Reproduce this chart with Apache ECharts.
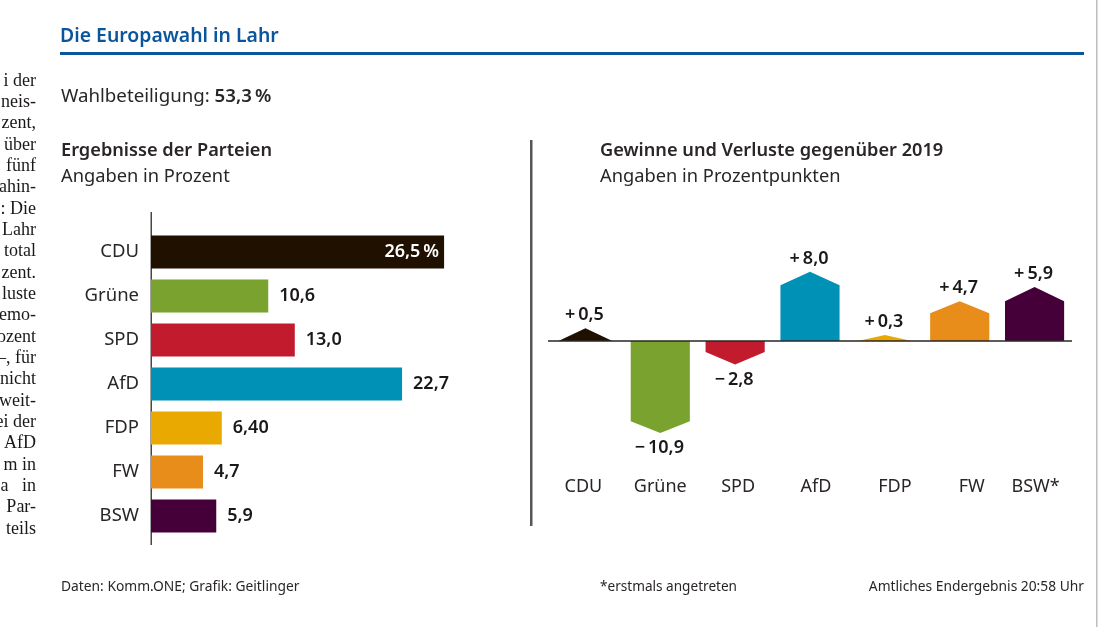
<!DOCTYPE html>
<html>
<head>
<meta charset="utf-8">
<style>
    html, body { margin: 0; padding: 0; background: #ffffff; }
    #main { width: 1101px; height: 627px; }
</style>
<script src="https://cdn.jsdelivr.net/npm/echarts@6/dist/echarts.min.js"></script>
</head>
<body>
<div id="main"></div>
<script>
    // Ergebnisse
    var parties = ['CDU', 'Grüne', 'SPD', 'AfD', 'FDP', 'FW', 'BSW'];
    var results = [26.5, 10.6, 13.0, 22.7, 6.4, 4.7, 5.9];
    var resultLabels = ['26,5\u2009%', '10,6', '13,0', '22,7', '6,40', '4,7', '5,9'];

    // Gewinne und Verluste
    var changeParties = ['CDU', 'Grüne', 'SPD', 'AfD', 'FDP', 'FW', 'BSW*'];
    var changeLabels = ['+\u20090,5', '−\u200910,9', '−\u20092,8', '+\u20098,0', '+\u20090,3', '+\u20094,7', '+\u20095,9'];
    // Hoehe der Fuenfecke (Spitze / Schulter)
    var changeTips = [1.5, -10.9, -2.8, 8.2, 0.7, 4.7, 6.4];
    var changeShoulders = [0, -9.5, -1.3, 6.6, 0, 3.3, 4.7];

    var partyColors = ['#201000', '#79a22f', '#c21b2e', '#0092b6', '#eaa900', '#e88c1a', '#45003a'];

    // abgeschnittene Textspalte links
    var columnLines = ['i der', 'neis-', 'zent,', 'über', 'fünf', 'ahin-', ': Die', 'Lahr', 'total', 'zent.', 'luste',
        'emo-', 'ozent', '–, für', 'nicht', 'weit-', 'ei der', 'AfD', 'm in', 'a   in', 'Par-', 'teils'];

    var font = '"Noto Sans", sans-serif';
    var ink = '#2a2626';

    // kleine Verschiebung der Achsenbeschriftung rechts
    var labelShift = [-2, 0, 3, 6, 10, 12, 1];

    function text(x, y, str, size, weight, color, align) {
        return {
            type: 'text', silent: true,
            x: x, y: y,
            style: {
                text: str, fill: color || ink, align: align || 'left', verticalAlign: 'middle',
                font: (weight || 'normal') + ' ' + size + 'px ' + font
            }
        };
    }

    var graphics = [
        text(60, 36, 'Die Europawahl in Lahr', 19.4, '600', '#0b559c'),
        { type: 'rect', silent: true, shape: { x: 60, y: 52, width: 1024, height: 3 }, style: { fill: '#0b559c' } },
        {
            type: 'text', silent: true, x: 61, y: 97,
            style: {
                text: '{a|Wahlbeteiligung: }{b|53,3\u2009%}', verticalAlign: 'middle',
                rich: {
                    a: { font: 'normal 18.7px ' + font, fill: ink },
                    b: { font: '600 18.7px ' + font, fill: ink }
                }
            }
        },
        text(61, 151, 'Ergebnisse der Parteien', 18.2, '600'),
        text(61, 177, 'Angaben in Prozent', 18.3),
        text(600, 151, 'Gewinne und Verluste gegenüber 2019', 18.2, '600'),
        text(600, 177, 'Angaben in Prozentpunkten', 18.3),
        { type: 'rect', silent: true, shape: { x: 530, y: 140, width: 2.5, height: 386 }, style: { fill: '#5a5555' } },
        { type: 'rect', silent: true, shape: { x: 150.5, y: 212, width: 1.5, height: 333 }, style: { fill: '#4a4646' } },
        { type: 'rect', silent: true, shape: { x: 1096, y: 0, width: 1.5, height: 627 }, style: { fill: '#bdbdbd' } },
        text(61, 587, 'Daten: Komm.ONE; Grafik: Geitlinger', 13.8),
        text(600, 587, '*erstmals angetreten', 13.6),
        text(1084, 587, 'Amtliches Endergebnis 20:58 Uhr', 13.8, 'normal', ink, 'right')
    ];
    columnLines.forEach(function (line, i) {
        graphics.push({
            type: 'text', silent: true, x: 36, y: 81 + i * 21.33,
            style: { text: line, fill: '#1c1818', align: 'right', verticalAlign: 'middle', font: '18px "Liberation Serif", serif' }
        });
    });

    function drawPentagon(params, api) {
        var i = api.value(0);
        var zero = api.coord([i, 0]);
        var tip = api.coord([i, api.value(1)]);
        var shoulder = api.coord([i, api.value(2)]);
        var flat = api.value(2) === 0;
        var half = flat ? 27 : api.size([1, 0])[0] * 0.395;
        var up = api.value(1) > 0;
        return {
            type: 'group',
            children: [{
                type: 'polygon',
                shape: { points: [[zero[0] - half, zero[1]], [zero[0] - half, shoulder[1]], [tip[0], tip[1]], [zero[0] + half, shoulder[1]], [zero[0] + half, zero[1]]] },
                style: { fill: partyColors[i] }
            }, {
                type: 'text',
                x: tip[0] - 1, y: tip[1] + (up ? -13 : 15),
                style: {
                    text: changeLabels[i], fill: '#1c1818', align: 'center', verticalAlign: 'middle',
                    font: '600 18px ' + font
                }
            }]
        };
    }

    var myChart = echarts.init(document.getElementById('main'));

    var option = {
        backgroundColor: '#ffffff',
        animation: false,
        graphic: graphics,
        grid: [
            { left: 151, top: 230, width: 320, height: 308 },
            { left: 548, top: 256.6, width: 524, height: 219.4 }
        ],
        xAxis: [
            { gridIndex: 0, type: 'value', min: 0, max: 320 / 11.06, show: false },
            {
                gridIndex: 1, type: 'category', position: 'bottom',
                // Beschriftung leicht gegen die Balken versetzt
                data: changeParties.map(function (name, i) {
                    var s = labelShift[i];
                    return { value: name, textStyle: { padding: s > 0 ? [0, 0, 0, s * 2] : [0, -s * 2, 0, 0] } };
                }),
                axisLine: { show: false }, axisTick: { show: false },
                axisLabel: { margin: 2, verticalAlign: 'top', interval: 0, color: ink, fontFamily: font, fontSize: 18 }
            }
        ],
        yAxis: [
            {
                gridIndex: 0, type: 'category', inverse: true, data: parties,
                axisLine: { show: false }, axisTick: { show: false },
                axisLabel: { margin: 12, color: ink, fontFamily: font, fontSize: 18.5, padding: [3, 0, 0, 0] }
            },
            { gridIndex: 1, type: 'value', min: -16, max: 10, interval: 2, show: false }
        ],
        series: [
            {
                type: 'bar', xAxisIndex: 0, yAxisIndex: 0, barWidth: 33,
                data: results.map(function (v, i) {
                    var inside = i === 0;
                    return {
                        value: v,
                        itemStyle: { color: partyColors[i] },
                        label: {
                            show: true,
                            position: inside ? 'insideRight' : 'right',
                            distance: inside ? 5 : 11,
                            padding: [4, 0, 0, 0],
                            formatter: resultLabels[i],
                            color: inside ? '#ffffff' : '#1c1818',
                            fontFamily: font, fontWeight: 600, fontSize: 18
                        }
                    };
                })
            },
            {
                type: 'custom', xAxisIndex: 1, yAxisIndex: 1,
                renderItem: drawPentagon,
                encode: { x: 0, y: 1 },
                data: changeTips.map(function (v, i) { return [i, v, changeShoulders[i]]; }),
                markLine: {
                    silent: true, symbol: 'none', animation: false,
                    label: { show: false },
                    lineStyle: { color: '#2a2626', width: 1.5, type: 'solid' },
                    data: [{ yAxis: 0 }]
                }
            }
        ]
    };

    myChart.setOption(option);
</script>
</body>
</html>
